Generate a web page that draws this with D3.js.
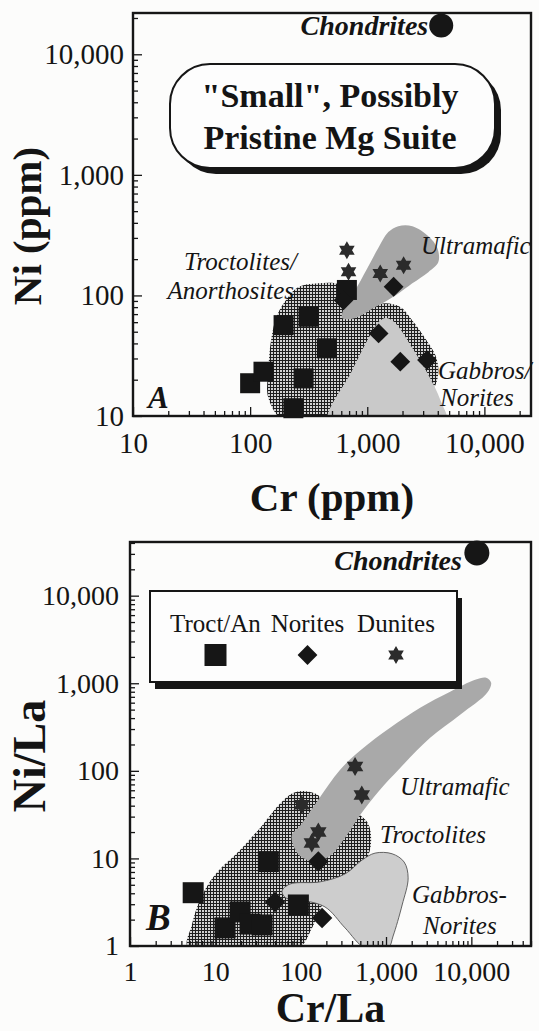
<!DOCTYPE html>
<html>
<head>
<meta charset="utf-8">
<script src="https://cdn.jsdelivr.net/npm/d3@7"></script>
<style>
  body { margin: 0; background: #fcfcfb; }
  svg text { font-family: "Liberation Serif", "Times New Roman", serif; fill: #141414; }
</style>
</head>
<body>
<svg id="chart" width="539" height="1031"></svg>
<script>
'use strict';

// ---- Panel A : Cr (ppm) vs Ni (ppm) ----
var ticksA = [10, 100, 1000, 10000];
var troctAnA = [[100, 18.7], [130, 23.3], [193, 56.7], [315, 66.5], [452, 36.4], [286, 20.5], [234, 11.6], [670, 111]];
var noritesA = [[627, 91], [1679, 118], [1250, 48.4], [1914, 28.2], [3237, 29.1]];
var dunitesA = [[670, 237], [692, 157], [1291, 152], [2043, 178]];
var chondriteA = [4280, 17300];

// fields (outlines)
var troctFieldA = [[143, 14.1], [143, 24], [151, 42.6], [170, 68.7], [211, 96.8], [257, 117], [381, 126], [565, 124],
  [662, 106], [744, 85], [961, 78.5], [1425, 86], [1915, 80], [2425, 62], [3131, 44], [3813, 32], [4045, 23],
  [3594, 16.4], [1915, 11.2], [588, 8.9], [199, 8.9]];
var ultramaficFieldA = [[611, 65], [649, 83], [790, 111], [980, 162], [1242, 247], [1512, 335], [1841, 375], [2425, 375],
  [3322, 310], [3965, 247], [4045, 189], [3322, 156], [2425, 126], [1770, 101], [1171, 80], [790, 65]];
var gabbroFieldA = [[464, 8.5], [744, 24], [1061, 47], [1242, 60], [1454, 65], [1735, 59], [2331, 39], [3322, 22],
  [4207, 13.6], [4733, 8.5]];

// ---- Panel B : Cr/La vs Ni/La ----
var ticksB = [1, 10, 100, 1000, 10000];
var troctAnB = [[5.5, 4.06], [41.8, 9.2], [94, 2.94], [13, 1.61], [19.5, 2.45], [25.5, 1.78], [35.3, 1.74]];
var noritesB = [[161, 9.2], [50, 3.18], [178, 2.09]];
var dunitesB = [[434, 112], [520, 53], [103, 41], [161, 20], [135, 15]];
var chondriteB = [11600, 30800];

var troctFieldB = [[4.8, 0.95], [5.3, 1.74], [6.6, 3.36], [9.9, 6.5], [19.5, 12.5], [35, 23.5], [57, 42], [79, 55],
  [104, 59], [148, 55], [210, 42], [306, 36], [471, 32], [617, 25], [669, 15.4], [584, 9.6], [380, 6.65],
  [234, 5.1], [178, 2.94], [136, 1.61], [93, 0.95]];
var ultramaficFieldB = [[81.5, 14.3], [79, 18.6], [98, 23.5], [160, 46.6], [290, 103], [511, 174], [1117, 310],
  [2512, 525], [5640, 800], [11080, 1096], [14920, 1156], [17060, 1013], [15310, 779], [7390, 437], [3289, 238],
  [1464, 108], [808, 57.5], [497, 31.4], [331, 17.2], [221, 10.7], [147.5, 9.1], [98, 10.7]];
var gabbroFieldB = [[60.5, 4.25], [75, 5.1], [169, 5.4], [331, 6.65], [525, 9.6], [745, 11.5], [1179, 11.3],
  [1630, 9.1], [1816, 6.0], [1545, 2.94], [1211, 1.3], [1059, 0.95], [569, 0.95], [331, 1.61], [193, 2.79],
  [98, 3.36], [67, 3.54]];

var legendNames = ['Troct/An', 'Norites', 'Dunites'];

var INK = '#161616';
var svg = d3.select('#chart');
var defs = svg.append('defs');

// fine cross-hatch used for the troctolite field
var pat = defs.append('pattern')
  .attr('id', 'hatch')
  .attr('width', 3)
  .attr('height', 3)
  .attr('patternUnits', 'userSpaceOnUse');
pat.append('rect').attr('width', 3).attr('height', 3).attr('fill', '#d2d2d2');
pat.append('rect').attr('width', 3).attr('height', 1).attr('fill', '#1e1e1e');
pat.append('rect').attr('width', 1).attr('height', 3).attr('fill', '#1e1e1e');

// six pointed star (two triangles)
var hexStar = {
  draw: function (ctx, size) {
    var r = Math.sqrt(size);
    [[-90, 30, 150], [90, 210, 330]].forEach(function (tri) {
      tri.forEach(function (a, i) {
        var t = a * Math.PI / 180;
        if (i === 0) ctx.moveTo(r * Math.cos(t), r * Math.sin(t));
        else ctx.lineTo(r * Math.cos(t), r * Math.sin(t));
      });
      ctx.closePath();
    });
  }
};

function translate(x, y) {
  return 'translate(' + x + ', ' + y + ')';
}

function minorTicks(lo, hi) {
  var out = [];
  for (var d = lo; d < hi; d *= 10) {
    for (var k = 2; k <= 9; k++) {
      if (d * k <= hi) out.push(d * k);
    }
  }
  return out;
}

function makePanel(p) {
  var x = d3.scaleLog().domain(p.xDomain).range([p.left, p.right]);
  var y = d3.scaleLog().domain(p.yDomain).range([p.bottom, p.top]);

  defs.append('clipPath').attr('id', 'clip' + p.id)
    .append('rect')
    .attr('x', p.left).attr('y', p.top)
    .attr('width', p.right - p.left).attr('height', p.bottom - p.top);

  var fields = svg.append('g').attr('clip-path', 'url(#clip' + p.id + ')');
  return { x: x, y: y, fields: fields, p: p };
}

function drawField(panel, pts, fill, stroke) {
  var line = d3.line()
    .x(function (d) { return panel.x(d[0]); })
    .y(function (d) { return panel.y(d[1]); })
    .curve(d3.curveCatmullRomClosed.alpha(0.5));
  panel.fields.append('path')
    .datum(pts)
    .attr('d', line)
    .attr('fill', fill)
    .attr('stroke', stroke || 'none')
    .attr('stroke-width', 0.9);
}

function drawFrameAndAxes(panel, ticks) {
  var p = panel.p;
  svg.append('rect')
    .attr('x', p.left).attr('y', p.top)
    .attr('width', p.right - p.left).attr('height', p.bottom - p.top)
    .attr('fill', 'none').attr('stroke', INK).attr('stroke-width', 2.4);

  var fmt = d3.format(',');
  var xMinor = svg.append('g').attr('transform', translate(0, p.bottom))
    .call(d3.axisBottom(panel.x).tickValues(minorTicks(p.xDomain[0], p.xDomain[1])).tickSize(-5).tickFormat(''));
  var xMajor = svg.append('g').attr('transform', translate(0, p.bottom))
    .call(d3.axisBottom(panel.x).tickValues(ticks.x).tickSizeInner(-9).tickSizeOuter(0)
      .tickPadding(p.xPad).tickFormat(fmt));
  var yMinor = svg.append('g').attr('transform', translate(p.left, 0))
    .call(d3.axisLeft(panel.y).tickValues(minorTicks(p.yDomain[0], p.yDomain[1])).tickSize(-5).tickFormat(''));
  var yMajor = svg.append('g').attr('transform', translate(p.left, 0))
    .call(d3.axisLeft(panel.y).tickValues(ticks.y).tickSizeInner(-9).tickSizeOuter(0)
      .tickPadding(p.yPad).tickFormat(fmt));

  [xMinor, xMajor, yMinor, yMajor].forEach(function (g) {
    g.select('.domain').remove();
    g.selectAll('.tick line').attr('stroke', INK).attr('stroke-width', 1.3);
    g.selectAll('.tick text').style('font-size', p.tickFont + 'px').attr('fill', INK);
  });
}

function drawMarkers(panel, data, kind, size) {
  var g = svg.append('g');
  var sel = g.selectAll('path').data(data).enter().append('path');
  if (kind === 'square') {
    sel.attr('d', d3.symbol(d3.symbolSquare).size(size * size))
      .attr('transform', function (d) { return translate(panel.x(d[0]), panel.y(d[1])); });
  } else if (kind === 'diamond') {
    sel.attr('d', d3.symbol(d3.symbolSquare).size(size * size))
      .attr('transform', function (d) { return translate(panel.x(d[0]), panel.y(d[1])) + ' rotate(45)'; });
  } else {
    sel.attr('d', d3.symbol(hexStar).size(size * size))
      .attr('transform', function (d) { return translate(panel.x(d[0]), panel.y(d[1])); });
  }
  sel.attr('fill', kind === 'star' ? '#2b2b2b' : INK);
}

function label(x, y, txt, size, opts) {
  opts = opts || {};
  return svg.append('text')
    .attr('x', x).attr('y', y)
    .attr('text-anchor', opts.anchor || 'start')
    .style('font-size', size + 'px')
    .style('font-weight', opts.bold ? 'bold' : 'normal')
    .style('font-style', opts.italic ? 'italic' : 'normal')
    .text(txt);
}

function axisTitles(panel, xt, yt, xSize, ySize, xBase, yBase, yCenter) {
  var p = panel.p;
  label((p.left + p.right) / 2, xBase, xt, xSize, { anchor: 'middle', bold: true });
  svg.append('text')
    .attr('transform', translate(yBase, yCenter) + ' rotate(-90)')
    .attr('text-anchor', 'middle')
    .style('font-size', ySize + 'px')
    .style('font-weight', 'bold')
    .text(yt);
}

// ================= Panel A =================
var A = makePanel({
  id: 'A', left: 133, top: 13, right: 531, bottom: 416,
  xDomain: [10, 25000], yDomain: [10, 22000], xPad: 16, yPad: 9, tickFont: 29
});
drawField(A, troctFieldA, 'url(#hatch)');
drawField(A, gabbroFieldA, '#c9c9c9');
drawField(A, ultramaficFieldA, '#a6a6a6');
drawFrameAndAxes(A, { x: ticksA, y: ticksA });

// title box with shadow
svg.append('rect').attr('x', 176).attr('y', 70).attr('width', 325).attr('height', 104).attr('rx', 40)
  .attr('fill', INK);
svg.append('rect').attr('x', 170).attr('y', 64).attr('width', 325).attr('height', 104).attr('rx', 40)
  .attr('fill', '#fdfdfd').attr('stroke', INK).attr('stroke-width', 2);
label(330, 107, '"Small", Possibly', 34, { anchor: 'middle', bold: true });
label(330, 149, 'Pristine Mg Suite', 34, { anchor: 'middle', bold: true });

label(421, 254, 'Ultramafic', 25, { italic: true });
label(297, 270, 'Troctolites/', 25, { anchor: 'end', italic: true });
label(294, 299, 'Anorthosites', 25, { anchor: 'end', italic: true });
label(438, 379, 'Gabbros/', 25, { italic: true });
label(440, 406, 'Norites', 25, { italic: true });
label(148, 408, 'A', 31, { bold: true, italic: true });

drawMarkers(A, troctAnA, 'square', 20);
drawMarkers(A, noritesA, 'diamond', 14);
drawMarkers(A, dunitesA, 'star', 9);

svg.append('circle').attr('cx', A.x(chondriteA[0])).attr('cy', A.y(chondriteA[1])).attr('r', 12).attr('fill', INK);
label(A.x(chondriteA[0]) - 13, A.y(chondriteA[1]) + 9, 'Chondrites', 28, { anchor: 'end', bold: true, italic: true });

axisTitles(A, 'Cr (ppm)', 'Ni (ppm)', 41, 41, 511, 41, 226);

// ================= Panel B =================
var B = makePanel({
  id: 'B', left: 130, top: 542, right: 531, bottom: 946,
  xDomain: [1, 50000], yDomain: [1, 41000], xPad: 15, yPad: 11, tickFont: 28
});
drawField(B, troctFieldB, 'url(#hatch)');
drawField(B, ultramaficFieldB, '#a9a9a9');
drawField(B, gabbroFieldB, '#cdcdcd', '#555');
drawFrameAndAxes(B, { x: ticksB, y: ticksB });

// legend box with shadow
svg.append('rect').attr('x', 155).attr('y', 598).attr('width', 307).attr('height', 91).attr('fill', INK);
svg.append('rect').attr('x', 150).attr('y', 591).attr('width', 307).attr('height', 91)
  .attr('fill', '#fdfdfd').attr('stroke', INK).attr('stroke-width', 2);
var legendX = [215.5, 307.5, 396];
var legendKinds = ['square', 'diamond', 'star'];
var legendSizes = [22, 14, 9];
legendNames.forEach(function (name, i) {
  label(legendX[i], 632, name, 25, { anchor: 'middle' });
  var sym = legendKinds[i] === 'star' ? d3.symbol(hexStar).size(legendSizes[i] * legendSizes[i])
    : d3.symbol(d3.symbolSquare).size(legendSizes[i] * legendSizes[i]);
  svg.append('path')
    .attr('d', sym)
    .attr('transform', translate(legendX[i], 655) + (legendKinds[i] === 'diamond' ? ' rotate(45)' : ''))
    .attr('fill', legendKinds[i] === 'star' ? '#2b2b2b' : INK);
});

label(400, 795, 'Ultramafic', 25, { italic: true });
label(380, 843, 'Troctolites', 25, { italic: true });
label(412, 903, 'Gabbros-', 25, { italic: true });
label(423, 934, 'Norites', 25, { italic: true });
label(146, 930, 'B', 37, { bold: true, italic: true });

drawMarkers(B, troctAnB, 'square', 21);
drawMarkers(B, noritesB, 'diamond', 14.5);
drawMarkers(B, dunitesB, 'star', 9.5);

svg.append('circle').attr('cx', B.x(chondriteB[0])).attr('cy', B.y(chondriteB[1])).attr('r', 12.5).attr('fill', INK);
label(B.x(chondriteB[0]) - 15, B.y(chondriteB[1]) + 17, 'Chondrites', 28, { anchor: 'end', bold: true, italic: true });

axisTitles(B, 'Cr/La', 'Ni/La', 42, 46, 1022, 45, 756);
</script>
</body>
</html>
